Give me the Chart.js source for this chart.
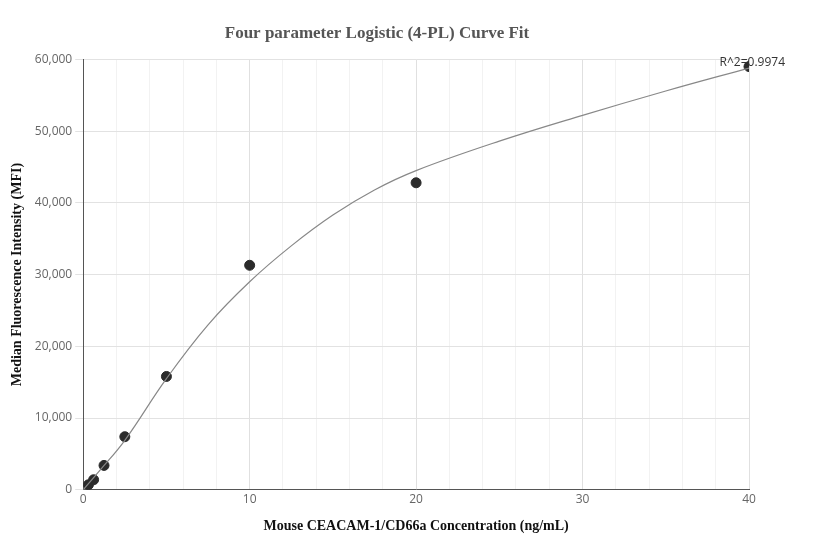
<!DOCTYPE html>
<html><head><meta charset="utf-8">
<script src="https://cdn.jsdelivr.net/npm/chart.js@4"></script>
<style>html,body{margin:0;padding:0;background:#fff}#w{width:832px;height:560px}</style>
</head><body><div id="w"><canvas id="c"></canvas></div>
<script>
const concentrations = [0.3125, 0.625, 1.25, 2.5, 5, 10, 20, 40];
const mfiValues = [700, 1400, 3400, 7400, 15800, 31300, 42800, 59000];
const curveX = [0, 1, 2.5, 5, 7.5, 10, 12.5, 15, 17.5, 20, 25, 30, 35, 40];
const curveY = [0, 2700, 6900, 15500, 23000, 29000, 34000, 38300, 41800, 44500, 48600, 52200, 55600, 58800];
const rLabel = 'R^2=0.9974';

const labelPlugin = {
  id:'rl',
  afterDatasetsDraw(ch){
    const {ctx,scales:{x,y}}=ch;
    ctx.save();ctx.font='12px "Open Sans"';ctx.fillStyle='#333';ctx.textAlign='right';ctx.textBaseline='bottom';
    ctx.fillText(rLabel, x.getPixelForValue(40)+36, y.getPixelForValue(59000)+2);
    ctx.restore();
  }
};
new Chart(document.getElementById('c'),{
  data:{datasets:[
    {type:'line',data:curveX.map((v,i)=>({x:v,y:curveY[i]})),borderColor:'#888',borderWidth:1.2,pointRadius:0,tension:0.4,fill:false},
    {type:'scatter',data:concentrations.map((v,i)=>({x:v,y:mfiValues[i]})),backgroundColor:'#2b2b2b',borderColor:'#2b2b2b',pointRadius:5}
  ]},
  options:{
    responsive:true,maintainAspectRatio:false,animation:false,
    layout:{padding:{top:15,right:83,left:5,bottom:21}},
    plugins:{legend:{display:false},tooltip:{enabled:false},
      title:{display:true,text:'Four parameter Logistic (4-PL) Curve Fit',color:'#555',font:{family:'Liberation Serif',size:17,weight:'bold'},padding:{top:8,bottom:16}}},
    scales:{
      x:{type:'linear',min:0,max:40,
        ticks:{stepSize:2,autoSkip:false,maxRotation:0,color:'#666',font:{family:'Open Sans',size:12},callback:v=>v%10===0?v:''},
        grid:{color:c=>c.tick&&c.tick.value%10===0?'#e0e0e0':'#f2f2f2',drawTicks:false},
        border:{color:'#555'},
        title:{display:true,text:'Mouse CEACAM-1/CD66a Concentration (ng/mL)',color:'#111',font:{family:'Liberation Serif',size:14,weight:'bold'},padding:{top:8}}},
      y:{min:0,max:60000,
        ticks:{stepSize:10000,color:'#666',font:{family:'Open Sans',size:12},callback:v=>v.toLocaleString('en-US')},
        grid:{color:'#e2e2e2'},
        border:{color:'#555'},
        title:{display:true,text:'Median Fluorescence Intensity (MFI)',color:'#111',font:{family:'Liberation Serif',size:14,weight:'bold'},padding:{bottom:6}}}
    }
  },
  plugins:[labelPlugin]
});
</script></body></html>
